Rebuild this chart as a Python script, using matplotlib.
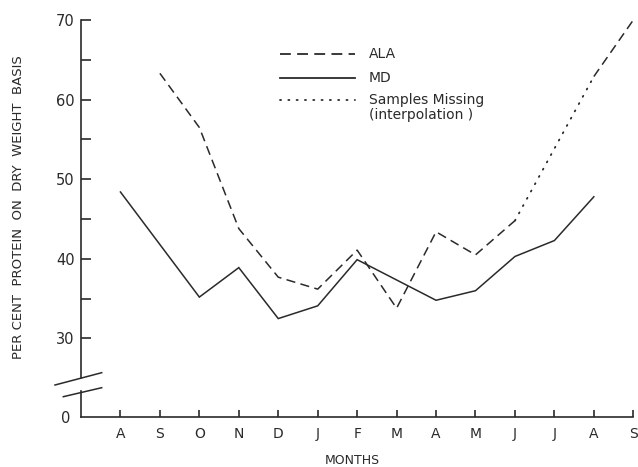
import matplotlib
matplotlib.use('Agg')
import matplotlib.pyplot as plt
from matplotlib.lines import Line2D

# data (None = no sample that month)
months = ['A', 'S', 'O', 'N', 'D', 'J', 'F', 'M', 'A', 'M', 'J', 'J', 'A', 'S']
ala = [None, 63.3, 56.5, 43.8, 37.7, 36.2, 41.1, 33.8, 43.4, 40.5, 44.8, None, 62.9, 70.0]
md = [48.4, None, 35.2, 38.9, 32.5, 34.1, 39.9, None, 34.8, 36.0, 40.3, 42.3, 47.8, None]
yticks_major = [30, 40, 50, 60, 70]
yticks_minor = [35, 45, 55, 65]

W, H = 638, 467
ink = '#2a2a2a'
plt.rcParams['font.family'] = 'DejaVu Sans'

def fx(px):
    return px / W

def fy(py):
    return 1 - py / H

fig = plt.figure(figsize=(W / 100, H / 100), dpi=100)
left, right = 81, 633.3
ax = fig.add_axes([fx(left), fy(378.3), fx(right - left), (378.3 - 20) / H])
axb = fig.add_axes([fx(left), fy(417), fx(right - left), (417 - 391) / H])

# MD: solid, joins over missing months
xm = [i for i, v in enumerate(md) if v is not None]
ym = [v for v in md if v is not None]
ax.plot(xm, ym, color=ink, lw=1.1, solid_joinstyle='miter')

# ALA: dashed where sampled, dotted across missing months
xa = [i for i, v in enumerate(ala) if v is not None]
ya = [v for v in ala if v is not None]
run_x, run_y = [xa[0]], [ya[0]]
for k in range(1, len(xa)):
    if xa[k] - xa[k - 1] == 1:
        run_x.append(xa[k]); run_y.append(ya[k])
    else:
        ax.plot(run_x, run_y, color=ink, lw=1.1, linestyle=(0, (6, 3.5)))
        ax.plot([xa[k - 1], xa[k]], [ya[k - 1], ya[k]], color=ink, lw=1.3,
                linestyle=(0, (0.6, 4)), dash_capstyle='round')
        run_x, run_y = [xa[k]], [ya[k]]
ax.plot(run_x, run_y, color=ink, lw=1.1, linestyle=(0, (6, 3.5)))

for a in (ax, axb):
    a.set_xlim(-1, 13)
    for s in ('top', 'right'):
        a.spines[s].set_visible(False)
    a.spines['left'].set_color(ink)
    a.spines['left'].set_linewidth(1.2)

ax.set_ylim(25, 70)
ax.spines['bottom'].set_visible(False)
ax.set_xticks([])
ax.set_yticks(yticks_major)
ax.set_yticks(yticks_minor, minor=True)
ax.tick_params(axis='y', which='both', direction='in', length=7, width=1.2,
               color=ink, labelcolor=ink, labelsize=10.5, pad=4.5)

axb.set_ylim(0, 3.27)
axb.set_yticks([0])
axb.set_yticklabels(['0'])
axb.set_xticks(range(len(months)))
axb.set_xticklabels(months)
axb.spines['bottom'].set_color(ink)
axb.spines['bottom'].set_linewidth(1.2)
axb.tick_params(axis='y', direction='in', length=0, labelcolor=ink,
                labelsize=10.5, pad=8)
axb.tick_params(axis='x', direction='in', length=5, width=1.2, color=ink,
                labelcolor=ink, labelsize=10, pad=7)

# axis break marks
for (x0, y0), (x1, y1) in [((55, 385), (101.7, 372.7)), ((63.3, 396.7), (101.7, 387.7))]:
    fig.add_artist(Line2D([fx(x0), fx(x1)], [fy(y0), fy(y1)], color=ink, lw=1.1))

# legend drawn by hand
lx0, lx1, tx = 280, 355, 369
fig.add_artist(Line2D([fx(lx0), fx(lx1)], [fy(54), fy(54)], color=ink, lw=1.3,
                      linestyle=(0, (6, 3.5))))
fig.add_artist(Line2D([fx(lx0), fx(lx1)], [fy(78), fy(78)], color=ink, lw=1.3))
fig.add_artist(Line2D([fx(lx0), fx(lx1)], [fy(100), fy(100)], color=ink, lw=1.3,
                      linestyle=(0, (0.6, 4)), dash_capstyle='round'))
fig.text(fx(tx), fy(54), 'ALA', fontsize=10, color=ink, va='center')
fig.text(fx(tx), fy(78), 'MD', fontsize=10, color=ink, va='center')
fig.text(fx(tx), fy(100), 'Samples Missing', fontsize=10, color=ink, va='center')
fig.text(fx(tx), fy(115), '(interpolation )', fontsize=10, color=ink, va='center')

fig.text(fx(19), fy(207), 'PER CENT  PROTEIN  ON  DRY  WEIGHT  BASIS',
         rotation=90, ha='center', va='center', fontsize=9.5, color=ink)
fig.text(fx(352), fy(461), 'MONTHS', ha='center', va='center', fontsize=9, color=ink)

fig.savefig('out.png', dpi=100)
